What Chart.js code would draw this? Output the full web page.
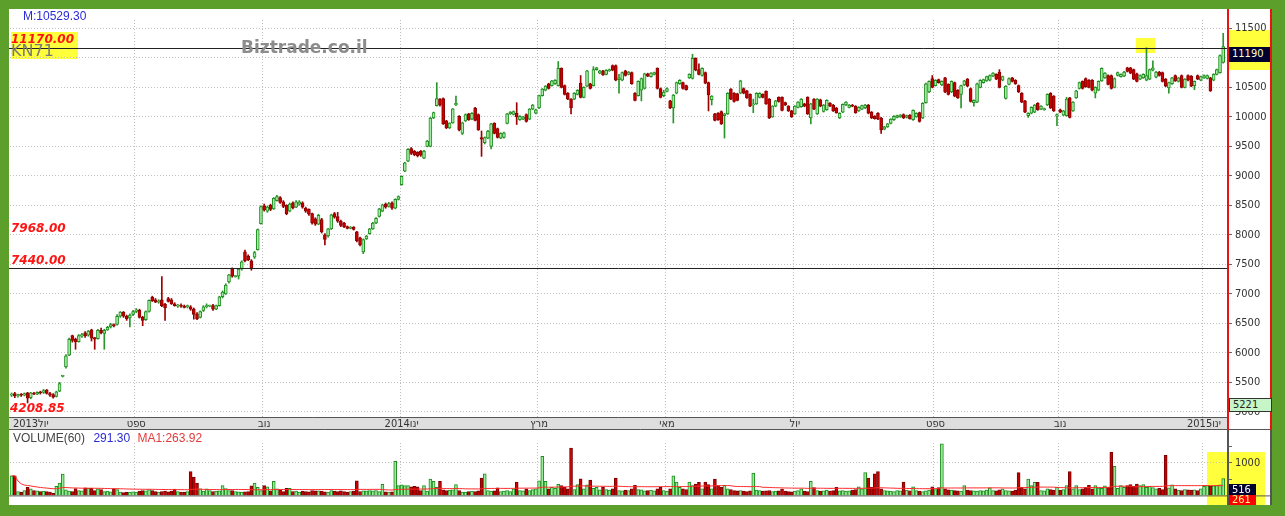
<!DOCTYPE html>
<html lang="he">
<head>
<meta charset="utf-8">
<title>Biztrade - daily chart</title>
<script src="https://cdn.jsdelivr.net/npm/chart.js@4.4.1/dist/chart.umd.min.js"></script>
<style>
  html, body { margin: 0; padding: 0; }
  body { width: 1285px; height: 516px; background: #5c9f2b; position: relative; overflow: hidden;
         font-family: "Liberation Sans", Arial, sans-serif; }
  .abs { position: absolute; }
  .hl { background: #ffff3c; }
  .lvl { font: italic bold 12px "DejaVu Sans", sans-serif; color: #ff1414; white-space: nowrap; line-height: 12px; }
  .box { font: 11px "DejaVu Sans Condensed", "DejaVu Sans", sans-serif; line-height: 14px; padding-left: 3px; box-sizing: border-box; white-space: nowrap; }
</style>
</head>
<body>
<div class="abs" style="left:9px;top:9px;width:1263px;height:496px;background:#fff;"></div>

<!-- highlight boxes sit under the charts -->
<div class="abs hl" style="left:11px;top:32px;width:67px;height:27px;"></div>
<div class="abs hl" style="left:1136px;top:38px;width:19px;height:15px;"></div>
<div class="abs hl" style="left:1229px;top:30px;width:43px;height:40px;"></div>
<div class="abs hl" style="left:1207px;top:452px;width:58px;height:53px;"></div>

<canvas id="priceCanvas" class="abs" width="1263" height="421" style="left:9px;top:9px;"></canvas>
<canvas id="volCanvas" class="abs" width="1263" height="75" style="left:9px;top:430px;"></canvas>

<div class="abs" style="left:23px;top:9px;font-size:12px;color:#2b2bd6;">M:10529.30</div>
<div class="abs" style="left:11px;top:41px;font:16px 'DejaVu Sans',sans-serif;color:#7a7a7a;">KN71</div>
<div class="abs lvl" style="left:11px;top:33px;">11170.00</div>
<div class="abs" style="left:241px;top:37px;font:bold 17px 'DejaVu Sans',sans-serif;color:#8c8c8c;">Biztrade.co.il</div>
<div class="abs lvl" style="left:11px;top:222px;">7968.00</div>
<div class="abs lvl" style="left:11px;top:254px;">7440.00</div>
<div class="abs lvl" style="left:10px;top:402px;">4208.85</div>

<div class="abs box" style="left:1229px;top:47px;width:41px;height:15px;background:#000030;color:#ffffc8;">11190</div>
<div class="abs box" style="left:1229px;top:398px;width:43px;height:14px;background:#c8f5c8;border:1px solid #333;color:#222;line-height:12px;">5221</div>

<div class="abs" style="left:13px;top:431px;font-size:12px;white-space:nowrap;">
  <span style="color:#444;">VOLUME(60)</span>
  <span style="color:#2b2bd6;margin-left:5px;">291.30</span>
  <span style="color:#e23a3a;margin-left:4px;">MA1:263.92</span>
</div>
<div class="abs box" style="left:1229px;top:484px;width:27px;height:11px;background:#000030;color:#fff;line-height:11px;">516</div>
<div class="abs box" style="left:1229px;top:495px;width:27px;height:10px;background:#ff0000;color:#ffff80;line-height:10px;">261</div>

<script>
// ---- data (one candle per trading day) ----
const monthLabels = ['2013יול', 'ספט', 'נוב', '2014ינו', 'מרץ', 'מאי', 'יול', 'ספט', 'נוב', '2015ינו'];
const monthSlots = [6, 39, 79, 122, 165, 205, 245, 289, 328, 373];
const priceTicks = [5000, 5500, 6000, 6500, 7000, 7500, 8000, 8500, 9000, 9500, 10000, 10500, 11000, 11500];
const volumeTicks = [500, 1000, 1500];
const levelLines = [11170, 7440];
const SLOTS = 381;

const opens = [
  5280,5310,5270,5290,5280,5320,5240,5310,5300,5330, 5330,5370,5310,5290,5260,5350,5600,5760,5960,6290,
  6230,6190,6280,6340,6300,6390,6260,6240,6380,6330, 6390,6440,6470,6480,6620,6690,6620,6590,6650,6700,
  6720,6600,6560,6700,6940,6900,6860,6900,6820,6920, 6900,6830,6790,6800,6790,6780,6780,6740,6660,6600,
  6720,6780,6790,6800,6740,6800,6950,7000,7200,7420, 7290,7300,7420,7710,7640,7560,7620,7750,8190,8490,
  8400,8500,8440,8580,8630,8560,8500,8400,8540,8470, 8520,8540,8450,8430,8360,8270,8180,8260,8000,7980,
  8100,8360,8310,8230,8200,8140,8110,8130,8050,7950, 7710,7930,8020,8100,8200,8310,8400,8520,8480,8540,
  8450,8600,8850,9080,9250,9460,9420,9400,9420,9300, 9500,9500,9980,10190,10300,10310,9930,9810,9895,10200,
  10010,9720,9930,10050,9960,10150,10040,9650,9560,9640, 9500,9890,9800,9640,9650,9890,10050,10040,10060,9950,
  9960,10040,9960,10130,10060,10150,10360,10450,10560,10530, 10560,10530,10820,10530,10400,10300,10300,10380,10570,10330,
  10520,10560,10530,10800,10740,10780,10720,10780,10870,10870, 10630,10620,10780,10720,10750,10400,10360,10450,10480,10730,
  10680,10720,10820,10480,10360,10430,10270,10150,10400,10560, 10580,10530,10660,10650,10990,10800,10700,10750,10580,10290,
  10050,10060,10090,10020,10050,10470,10400,10390,10400,10480, 10440,10380,10200,10220,10330,10380,10430,10300,10000,10180,
  10330,10330,10240,10180,10100,10050,10160,10170,10220,10330, 9980,10300,10050,10290,10090,10120,10230,10200,10150,9980,
  10080,10200,10160,10200,10180,10100,10130,10150,10200,10080, 10010,10060,9980,9790,9830,9890,9950,9990,10000,10040,
  9990,10030,9950,10000,10070,9980,10240,10420,10650,10530, 10630,10540,10660,10550,10420,10580,10450,10380,10540,10640,
  10480,10240,10250,10500,10580,10610,10620,10690,10720,10760, 10620,10310,10550,10660,10620,10530,10400,10270,10020,10060,
  10080,10230,10130,10120,10200,10400,10350,10010,10120,10030, 10020,10320,10100,10320,10480,10600,10650,10620,10620,10400,
  10450,10610,10660,10700,10700,10500,10700,10680,10690,10830, 10830,10800,10730,10640,10660,10620,10640,10790,10670,10760,
  10750,10640,10490,10560,10700,10600,10700,10500,10700,10690, 10530,10700,10620,10660,10650,10660,10620,10720,10750,10920
];
const highs = [
  5320,5330,5300,5310,5320,5330,5330,5330,5340,5350, 5380,5380,5330,5310,5350,5500,5620,5970,6250,6300,
  6250,6310,6330,6360,6380,6400,6260,6400,6420,6400, 6450,6500,6490,6650,6700,6700,6640,6660,6720,6750,
  6740,6620,6710,6900,6960,6920,6900,7290,6840,6940, 6920,6850,6820,6830,6810,6810,6800,6760,6680,6710,
  6800,6830,6810,6820,6810,6960,7050,7170,7330,7440, 7310,7430,7560,7740,7660,7580,7720,8100,8490,8520,
  8490,8520,8630,8670,8650,8580,8510,8540,8560,8580, 8580,8560,8470,8440,8370,8290,8350,8280,8020,8110,
  8350,8380,8380,8250,8210,8150,8140,8140,8060,7960, 7930,7990,8110,8210,8290,8450,8520,8540,8550,8560,
  8610,8660,9000,9230,9460,9480,9430,9410,9430,9430, 9600,9990,10080,10580,10310,10320,9940,9900,10140,10350,
  10020,9910,10050,10060,10070,10160,10050,9760,9660,9770, 9890,9900,9810,9730,9740,10060,10090,10100,10240,10020,
  10010,10050,10140,10210,10130,10370,10480,10530,10570,10620, 10630,10937,10830,10540,10410,10310,10410,10460,10700,10510,
  10790,10570,10850,10840,10790,10790,10800,10810,10880,10880, 10720,10760,10790,10770,10760,10410,10610,10660,10740,10740,
  10750,10760,10830,10490,10450,10490,10280,10380,10590,10630, 10590,10540,10730,11060,11000,10900,10830,10760,10590,10360,
  10060,10070,10100,10060,10410,10480,10410,10400,10620,10490, 10450,10390,10300,10410,10410,10390,10440,10310,10190,10280,
  10340,10340,10250,10190,10110,10190,10260,10310,10230,10340, 10230,10310,10310,10300,10210,10290,10240,10210,10160,10070,
  10220,10260,10210,10210,10190,10170,10200,10210,10210,10090, 10020,10070,9990,9840,9890,9970,10020,10030,10040,10050,
  10030,10040,10120,10070,10080,10240,10570,10610,10700,10630, 10640,10610,10670,10560,10610,10590,10460,10540,10620,10650,
  10490,10290,10570,10630,10640,10690,10710,10750,10730,10800, 10690,10530,10660,10670,10630,10540,10410,10280,10070,10170,
  10210,10240,10190,10150,10390,10410,10360,10050,10130,10110, 10330,10330,10260,10450,10590,10610,10660,10630,10630,10510,
  10610,10830,10750,10710,10710,10660,10760,10730,10770,10840, 10840,10810,10740,10710,10730,11170,10810,10950,10770,10770,
  10760,10650,10590,10670,10710,10670,10710,10650,10710,10700, 10610,10710,10690,10710,10710,10670,10730,10810,11050,11415
];
const lows = [
  5260,5240,5250,5260,5270,5150,5220,5290,5290,5300, 5310,5300,5260,5230,5250,5340,5590,5740,5950,6180,
  6060,6180,6260,6260,6280,6200,6060,6230,6320,6060, 6380,6420,6440,6470,6600,6600,6550,6440,6630,6680,
  6590,6460,6550,6690,6870,6850,6840,6780,6550,6860, 6820,6790,6770,6770,6760,6760,6720,6570,6560,6590,
  6700,6760,6780,6720,6730,6790,6930,6990,7180,7280, 7280,7250,7400,7540,7560,7400,7600,7740,8180,8400,
  8380,8410,8430,8570,8530,8460,8340,8390,8440,8460, 8500,8450,8380,8330,8180,8160,8170,8030,7830,7960,
  8090,8280,8210,8140,8120,8100,8100,8080,7880,7810, 7680,7920,8010,8090,8190,8300,8390,8450,8470,8430,
  8440,8590,8840,9070,9240,9360,9340,9320,9330,9290, 9490,9490,9970,10180,10180,9870,9800,9800,9890,10190,
  9760,9700,9920,9940,9950,9930,9770,9330,9540,9630, 9455,9710,9640,9630,9640,9880,10040,10030,9870,9940,
  9950,9910,9950,10120,10050,10140,10350,10440,10470,10520, 10550,10520,10490,10370,10290,10050,10290,10370,10320,10320,
  10510,10470,10520,10790,10730,10700,10710,10770,10780,10610, 10400,10610,10690,10710,10550,10270,10350,10270,10470,10680,
  10670,10710,10470,10320,10340,10420,10140,9895,10390,10550, 10470,10450,10650,10640,10780,10710,10690,10560,10100,10200,
  9930,9940,9870,9640,10040,10290,10250,10270,10390,10390, 10310,10170,10070,10210,10320,10320,10210,9970,9990,10170,
  10250,10100,10190,10090,9990,10040,10150,10160,10170,10040, 9880,10120,10040,10170,10080,10110,10170,10090,10060,9970,
  10070,10190,10150,10170,10060,10090,10120,10140,10050,9970, 9960,9950,9720,9780,9820,9880,9940,9980,9990,9970,
  9980,9960,9940,9990,9910,9970,10230,10410,10490,10520, 10570,10530,10410,10370,10410,10340,10310,10150,10530,10510,
  10250,10180,10240,10490,10570,10600,10610,10680,10630,10490, 10610,10300,10540,10590,10550,10410,10240,10070,9990,10050,
  10070,10110,10120,10110,10190,10140,10090,9850,10070,10020, 10010,9980,10090,10310,10470,10470,10500,10490,10440,10320,
  10440,10600,10650,10540,10470,10490,10690,10670,10680,10760, 10730,10630,10590,10630,10650,10610,10630,10780,10660,10690,
  10590,10510,10400,10550,10600,10590,10490,10490,10610,10510, 10460,10630,10610,10650,10640,10430,10610,10710,10740,10910
];
const closes = [
  5300,5270,5290,5280,5310,5230,5320,5300,5330,5320, 5360,5310,5280,5250,5340,5480,5610,5950,6230,6210,
  6190,6290,6310,6290,6370,6250,6230,6380,6340,6380, 6430,6480,6460,6620,6690,6620,6580,6640,6700,6730,
  6600,6550,6700,6890,6880,6860,6880,6800,6760,6870, 6830,6800,6810,6790,6770,6800,6740,6650,6580,6700,
  6780,6800,6795,6740,6800,6950,7030,7150,7320,7300, 7295,7420,7540,7560,7580,7430,7700,8090,8480,8420,
  8470,8430,8620,8650,8550,8480,8360,8520,8460,8560, 8560,8470,8400,8350,8200,8180,8330,8050,7920,8100,
  8340,8300,8230,8160,8140,8110,8130,8090,7900,7830, 7920,7980,8100,8200,8280,8440,8510,8470,8530,8450,
  8600,8650,8990,9220,9450,9380,9360,9340,9350,9420, 9590,9980,10070,10310,10200,9880,9810,9895,10135,10230,
  9780,9900,10040,9950,10060,9940,9780,9620,9650,9760, 9880,9720,9650,9720,9730,10050,10080,10090,10000,10010,
  10000,9920,10130,10200,10120,10360,10470,10520,10480,10610, 10620,10820,10500,10380,10300,10150,10400,10450,10330,10500,
  10780,10480,10800,10830,10780,10710,10790,10800,10790,10620, 10660,10750,10700,10760,10560,10280,10600,10650,10730,10690,
  10740,10750,10480,10330,10420,10480,10150,10370,10580,10620, 10480,10460,10720,10990,10790,10720,10820,10570,10370,10350,
  9940,9950,9880,10050,10400,10300,10260,10280,10610,10400, 10320,10180,10220,10400,10400,10330,10220,9980,10180,10270,
  10260,10110,10200,10100,10000,10180,10250,10300,10180,10050, 10220,10130,10300,10180,10200,10280,10180,10100,10070,10060,
  10210,10250,10200,10180,10070,10160,10190,10200,10060,9980, 9970,9960,9780,9830,9880,9960,10010,10020,10030,9980,
  10020,9970,10110,10060,9920,10230,10560,10600,10500,10620, 10580,10600,10420,10380,10600,10350,10320,10530,10610,10520,
  10260,10280,10560,10620,10630,10680,10700,10740,10640,10500, 10680,10520,10650,10600,10560,10420,10250,10080,10060,10160,
  10200,10120,10180,10140,10380,10150,10100,10040,10080,10100, 10300,9990,10250,10440,10580,10480,10510,10500,10450,10500,
  10600,10820,10740,10550,10480,10650,10750,10720,10760,10770, 10740,10640,10600,10700,10720,10700,10800,10830,10760,10700,
  10600,10520,10580,10660,10610,10660,10500,10640,10620,10520, 10600,10640,10680,10700,10700,10440,10720,10800,11040,11190
];
const volumes = [
  600,600,120,100,150,250,200,150,140,120, 130,120,100,60,280,380,650,170,130,120,
  210,150,140,230,220,220,150,200,180,120, 130,110,200,180,100,90,100,100,110,100,
  130,150,140,180,150,120,100,120,130,110, 130,190,120,100,100,120,730,560,370,200,
  130,200,150,120,130,140,300,210,150,150, 120,110,100,110,120,290,380,250,150,300,
  260,140,430,200,170,120,220,220,120,130, 100,130,120,110,150,140,140,130,110,100,
  150,130,120,140,120,100,120,130,450,120, 140,140,150,140,150,120,340,110,100,110,
  1040,300,320,300,300,260,280,260,150,300, 130,500,430,250,430,170,150,160,170,330,
  150,100,100,120,130,120,140,530,660,150, 130,140,230,120,130,150,120,200,410,150,
  140,200,150,180,200,450,1200,430,200,250, 220,340,300,250,200,1450,180,330,510,200,
  320,470,220,250,170,250,180,160,200,530, 150,140,160,150,200,310,180,170,140,150,
  160,140,200,250,150,130,200,600,410,250, 200,180,410,300,350,400,200,410,330,200,
  500,300,250,310,200,180,150,140,150,130, 120,140,680,160,150,130,140,150,120,130,
  140,190,130,120,110,130,150,200,130,120, 430,240,150,130,140,160,130,150,250,140,
  150,130,140,160,180,260,200,700,530,250, 660,730,200,150,140,130,120,150,140,410,
  160,140,260,150,130,120,140,160,260,180, 240,1580,200,170,160,150,140,130,300,160,
  150,140,130,150,140,160,230,150,140,170, 200,150,140,130,160,700,250,200,500,300,
  400,400,150,140,200,180,160,250,160,180, 300,730,200,300,180,200,250,310,200,300,
  230,220,290,250,1330,890,220,300,250,300, 330,280,350,300,330,250,280,240,200,220,
  180,1230,230,320,200,160,150,180,170,160, 170,150,200,280,300,280,290,300,320,516
];

// ---- derived series ----
const slotLabels = Array(SLOTS).fill('');
monthSlots.forEach((s, k) => { slotLabels[s] = monthLabels[k]; });

const isUp = closes.map((c, i) => c >= opens[i]);
const maPeriod = 60;
const volumeMA = volumes.map((v, i) => {
  const win = volumes.slice(Math.max(0, i - maPeriod + 1), i + 1);
  return win.reduce((a, b) => a + b, 0) / win.length;
});

const axisFont = { family: "'DejaVu Sans Condensed', 'DejaVu Sans', sans-serif", size: 11 };
const monthGrid = c => (c.tick && c.tick.label && c.index !== monthSlots[0]) ? '#bdbdbd' : 'rgba(0,0,0,0)';
const fixedTicks = values => scale => { scale.ticks = values.map(v => ({ value: v })); };

// band under the price panel, level lines and the axis frame
const panelDecor = {
  id: 'panelDecor',
  beforeDraw(chart, args, opts) {
    const { ctx, chartArea } = chart;
    if (opts.band) {
      ctx.save();
      ctx.fillStyle = '#dedede';
      ctx.fillRect(0, chartArea.bottom, chartArea.right, chart.height - chartArea.bottom);
      ctx.strokeStyle = '#555';
      ctx.lineWidth = 1;
      ctx.beginPath();
      ctx.moveTo(0, chartArea.bottom + 0.5);
      ctx.lineTo(chartArea.right, chartArea.bottom + 0.5);
      ctx.moveTo(0, chart.height - 0.5);
      ctx.lineTo(chart.width, chart.height - 0.5);
      ctx.stroke();
      ctx.restore();
    }
  },
  afterDraw(chart, args, opts) {
    const { ctx, chartArea } = chart;
    ctx.save();
    (opts.levels || []).forEach(v => {
      const y = Math.round(chart.scales.y.getPixelForValue(v)) + 0.5;
      ctx.strokeStyle = '#222';
      ctx.lineWidth = 1;
      ctx.beginPath();
      ctx.moveTo(0, y);
      ctx.lineTo(chartArea.right, y);
      ctx.stroke();
    });
    ctx.fillStyle = opts.frameColor;
    ctx.fillRect(chartArea.right - 1, 0, 2, chart.height);
    ctx.fillRect(chart.width - 2, 0, 2, chart.height);
    if (opts.baseLine) {
      ctx.fillRect(0, chartArea.bottom, chart.width, 1);
    }
    ctx.restore();
  }
};

new Chart(document.getElementById('priceCanvas'), {
  type: 'bar',
  data: {
    labels: slotLabels,
    datasets: [
      {
        label: 'body',
        data: opens.map((o, i) => [Math.min(o, closes[i]), Math.max(o, closes[i])]),
        grouped: false,
        barThickness: 3,
        minBarLength: 1,
        borderWidth: 1,
        borderSkipped: false,
        backgroundColor: isUp.map(u => u ? '#a4eba4' : '#cc0000'),
        borderColor: isUp.map(u => u ? '#1e8c1e' : '#8c0000')
      },
      {
        label: 'wick',
        data: lows.map((l, i) => [l, highs[i]]),
        grouped: false,
        barThickness: 1,
        backgroundColor: isUp.map(u => u ? '#2a962a' : '#9c0000')
      }
    ]
  },
  options: {
    responsive: false,
    animation: false,
    events: [],
    layout: { padding: { top: 11, left: 1, right: 0, bottom: 0 } },
    plugins: {
      legend: { display: false },
      tooltip: { enabled: false },
      panelDecor: { band: true, levels: levelLines, frameColor: '#ee1111' }
    },
    scales: {
      x: {
        offset: true,
        grid: { offset: true, color: monthGrid, drawTicks: false },
        border: { display: false, dash: [1, 2] },
        ticks: {
          autoSkip: false, maxRotation: 0, minRotation: 0, padding: 1,
          color: '#333', font: axisFont,
          callback: (v, i) => slotLabels[i]
        },
        afterFit: s => { s.height = 13; }
      },
      y: {
        position: 'right',
        min: 4912,
        max: 11641,
        afterBuildTicks: fixedTicks(priceTicks),
        grid: { color: '#c2c2c2', tickLength: 4, tickColor: '#666' },
        border: { display: false, dash: [1, 2] },
        ticks: { padding: 3, color: '#333', font: axisFont, callback: v => String(v) },
        afterFit: s => { s.width = 44; }
      }
    }
  },
  plugins: [panelDecor]
});

new Chart(document.getElementById('volCanvas'), {
  type: 'bar',
  data: {
    labels: slotLabels,
    datasets: [
      {
        type: 'line',
        label: 'MA1',
        data: volumeMA,
        borderColor: '#ff2a2a',
        borderWidth: 1,
        pointRadius: 0,
        tension: 0
      },
      {
        label: 'VOLUME',
        data: volumes,
        barThickness: 3,
        borderWidth: 1,
        backgroundColor: isUp.map(u => u ? '#98ec98' : '#c80000'),
        borderColor: isUp.map(u => u ? '#1e8c1e' : '#7a0000')
      }
    ]
  },
  options: {
    responsive: false,
    animation: false,
    events: [],
    layout: { padding: { top: 13, left: 1, right: 0, bottom: 1 } },
    plugins: {
      legend: { display: false },
      tooltip: { enabled: false },
      panelDecor: { band: false, baseLine: true, frameColor: '#555' }
    },
    scales: {
      x: {
        offset: true,
        grid: { offset: true, color: monthGrid, drawTicks: false },
        border: { display: false, dash: [1, 2] },
        ticks: { display: false, autoSkip: false, callback: (v, i) => slotLabels[i] },
        afterFit: s => { s.height = 0; }
      },
      y: {
        position: 'right',
        min: 0,
        max: 1605,
        afterBuildTicks: fixedTicks(volumeTicks),
        grid: {
          color: c => (c.tick && c.tick.value === 1000) ? '#c2c2c2' : 'rgba(0,0,0,0)',
          tickLength: 4, tickColor: '#666'
        },
        border: { display: false, dash: [1, 2] },
        ticks: { padding: 3, color: '#333', font: axisFont, callback: v => (v === 1000 ? '1000' : '') },
        afterFit: s => { s.width = 44; }
      }
    }
  },
  plugins: [panelDecor]
});
</script>
</body>
</html>
